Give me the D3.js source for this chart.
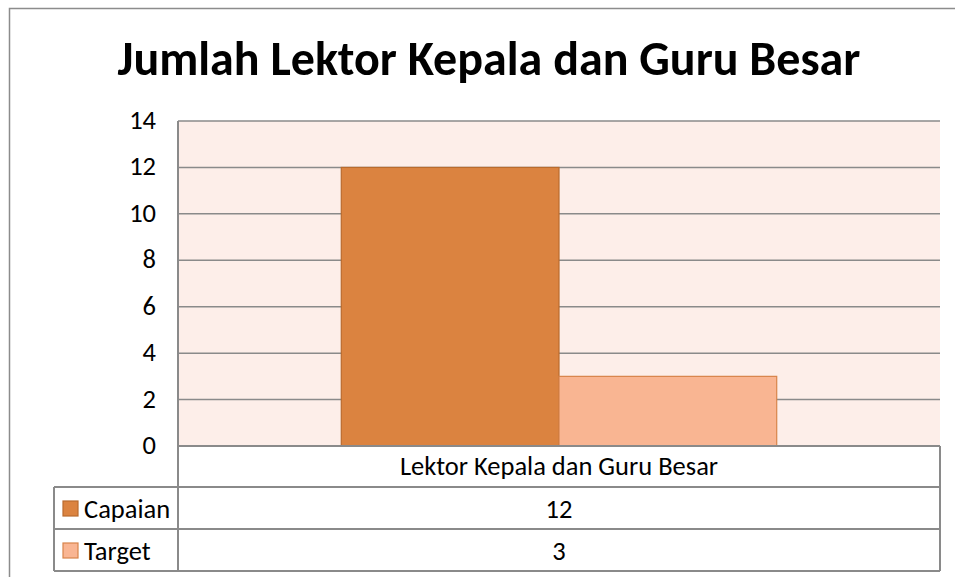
<!DOCTYPE html>
<html lang="id">
  <head>
    <meta charset="UTF-8" />
    <title>Jumlah Lektor Kepala dan Guru Besar</title>
    <script src="https://d3js.org/d3.v7.min.js"></script>
    <style>
      body { margin: 0; background: #fff; }
      text { font-family: Carlito, Calibri, "Open Sans", sans-serif; }
    </style>
  </head>
  <body>
    <svg id="chart" width="955" height="577"></svg>
    <script>
      // data
      const categories = ['Lektor Kepala dan Guru Besar']
      const seriesNames = ['Capaian', 'Target']
      const capaian = [12]
      const target = [3]
      const yTicks = [0, 2, 4, 6, 8, 10, 12, 14]

      const colors = { Capaian: '#db8340', Target: '#f9b592' }
      const strokes = { Capaian: '#b96b2e', Target: '#d8844a' }

      const svg = d3.select('#chart')
      const plot = { left: 178, right: 940, top: 121, bottom: 446 }
      const rowH = [41, 42, 42] // header, Capaian, Target
      const tableLeft = 54
      const fs = 26.5

      // outer chart border
      svg.append('rect')
        .attr('x', 9.5).attr('y', 8.5)
        .attr('width', 960).attr('height', 600)
        .attr('fill', '#fff').attr('stroke', '#8c8c8c').attr('stroke-width', 1.5)

      // title
      const title = svg.append('text')
        .attr('x', 489).attr('y', 75)
        .attr('text-anchor', 'middle')
        .attr('font-weight', 'bold')
        .attr('font-size', 40)
        .attr('fill', '#000')
        .text('Jumlah Lektor Kepala dan Guru Besar')
      const tw = title.node().getComputedTextLength()
      title.attr('font-size', 40 * 743 / tw)

      const x0 = d3.scaleBand().domain(categories).range([plot.left, plot.right])
        .paddingInner(0).paddingOuter(0)
      const x1 = d3.scaleBand().domain(seriesNames)
      const y = d3.scaleLinear().domain([0, 14]).range([plot.bottom, plot.top])

      // plot background
      svg.append('rect')
        .attr('x', plot.left).attr('y', plot.top)
        .attr('width', plot.right - plot.left).attr('height', plot.bottom - plot.top)
        .attr('fill', '#fdeee9')

      // gridlines
      svg.append('g')
        .selectAll('line')
        .data(yTicks)
        .join('line')
        .attr('x1', plot.left).attr('x2', plot.right)
        .attr('y1', d => y(d)).attr('y2', d => y(d))
        .attr('stroke', '#8a8a8a').attr('stroke-width', 1.5)

      // bars: gap width 150% like spreadsheet default
      const bw = x0.bandwidth() / 3.5
      x1.range([0, bw * 2])
      const rows = categories.map((c, i) => ({ cat: c, Capaian: capaian[i], Target: target[i] }))
      svg.append('g')
        .selectAll('g')
        .data(rows)
        .join('g')
        .attr('transform', d => `translate(${x0(d.cat) + bw * 0.75},0)`)
        .selectAll('rect')
        .data(d => seriesNames.map(k => ({ key: k, value: d[k] })))
        .join('rect')
        .attr('x', d => x1(d.key))
        .attr('width', x1.bandwidth())
        .attr('y', d => y(d.value))
        .attr('height', d => y(0) - y(d.value))
        .attr('fill', d => colors[d.key])
        .attr('stroke', d => strokes[d.key])
        .attr('stroke-width', 1.2)

      // y axis labels
      svg.append('g')
        .selectAll('text')
        .data(yTicks)
        .join('text')
        .attr('x', 156).attr('y', d => y(d) + 8)
        .attr('text-anchor', 'end')
        .attr('font-size', fs)
        .attr('fill', '#000')
        .text(d => d)

      // data table
      const tb = plot.bottom
      const r1 = tb + rowH[0], r2 = r1 + rowH[1], r3 = r2 + rowH[2]
      const grid = svg.append('g').attr('stroke', '#8a8a8a').attr('stroke-width', 2).attr('fill', 'none')
      grid.append('line').attr('x1', plot.left).attr('x2', plot.left).attr('y1', plot.top).attr('y2', r3)
      grid.append('line').attr('x1', plot.right).attr('x2', plot.right).attr('y1', tb).attr('y2', r3)
      grid.append('line').attr('x1', plot.left).attr('x2', plot.right).attr('y1', tb).attr('y2', tb)
      grid.append('line').attr('x1', tableLeft).attr('x2', plot.right).attr('y1', r1).attr('y2', r1)
      grid.append('line').attr('x1', tableLeft).attr('x2', plot.right).attr('y1', r2).attr('y2', r2)
      grid.append('line').attr('x1', tableLeft).attr('x2', plot.right).attr('y1', r3).attr('y2', r3)
      grid.append('line').attr('x1', tableLeft).attr('x2', tableLeft).attr('y1', r1).attr('y2', r3)

      svg.append('g')
        .selectAll('text')
        .data(categories)
        .join('text')
        .attr('x', d => x0(d) + x0.bandwidth() / 2)
        .attr('y', tb + 29)
        .attr('text-anchor', 'middle')
        .attr('font-size', fs)
        .text(d => d)

      const tableRows = [
        { name: 'Capaian', values: capaian, top: r1 },
        { name: 'Target', values: target, top: r2 }
      ]
      const tr = svg.append('g').selectAll('g').data(tableRows).join('g')
      tr.append('rect')
        .attr('x', 63).attr('y', d => d.top + 14)
        .attr('width', 15).attr('height', 15)
        .attr('fill', d => colors[d.name])
        .attr('stroke', d => strokes[d.name]).attr('stroke-width', 1.2)
      tr.append('text')
        .attr('x', 84).attr('y', d => d.top + 31)
        .attr('font-size', fs)
        .text(d => d.name)
      tr.selectAll('text.v')
        .data(d => d.values.map((v, i) => ({ v, cat: categories[i], top: d.top })))
        .join('text')
        .attr('class', 'v')
        .attr('x', d => x0(d.cat) + x0.bandwidth() / 2)
        .attr('y', d => d.top + 31)
        .attr('text-anchor', 'middle')
        .attr('font-size', fs)
        .text(d => d.v)
    </script>
  </body>
</html>
